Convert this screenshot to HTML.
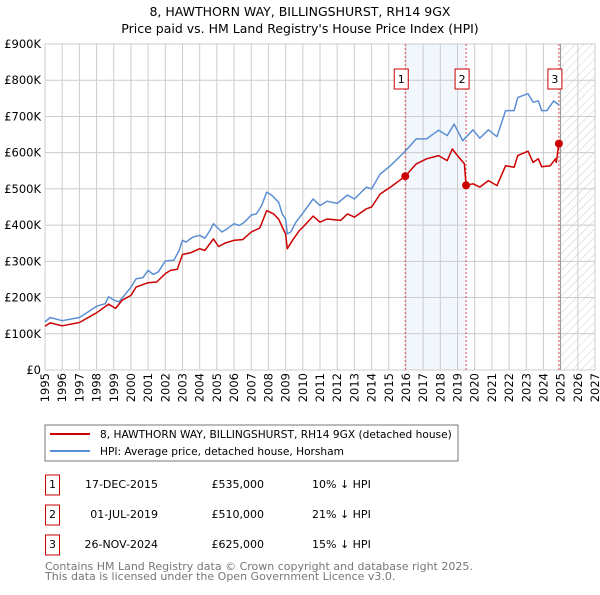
<!DOCTYPE html>
<html><head><meta charset="utf-8"><style>
body{margin:0;background:#fff;font-family:"Liberation Sans","DejaVu Sans",sans-serif;}
svg text{font-family:"DejaVu Sans","Liberation Sans",sans-serif;}
</style></head><body>
<svg id="c" width="600" height="590" xmlns="http://www.w3.org/2000/svg">
<defs><pattern id="hatch" width="6" height="6" patternUnits="userSpaceOnUse" patternTransform="rotate(45)"><line x1="0" y1="0" x2="0" y2="6" stroke="#ccc" stroke-width="1"/></pattern></defs>
<text x="300" y="16" text-anchor="middle" font-size="12.5">8, HAWTHORN WAY, BILLINGSHURST, RH14 9GX</text>
<text x="300" y="33" text-anchor="middle" font-size="12.5">Price paid vs. HM Land Registry's House Price Index (HPI)</text>
<g id="plot"></g>
<rect x="45" y="425" width="413" height="36" fill="#fff" stroke="#777"/>
<line x1="50" y1="434" x2="90" y2="434" stroke="#cc0000" stroke-width="2"/>
<text x="100" y="438" font-size="10.6">8, HAWTHORN WAY, BILLINGSHURST, RH14 9GX (detached house)</text>
<line x1="50" y1="451" x2="90" y2="451" stroke="#5b8fd4" stroke-width="2"/>
<text x="100" y="455" font-size="10.6">HPI: Average price, detached house, Horsham</text>
<g id="table" font-size="11"></g>
<text x="45" y="570" font-size="11" fill="#777">Contains HM Land Registry data © Crown copyright and database right 2025.</text>
<text x="45" y="580" font-size="11" fill="#777">This data is licensed under the Open Government Licence v3.0.</text>
</svg>
<script>
const hpiYears=[1995,1995.3,1996,1997,1997.5,1998,1998.5,1998.7,1999,1999.3,2000,2000.3,2000.7,2001,2001.3,2001.6,2002,2002.5,2002.8,2003,2003.2,2003.6,2004,2004.3,2004.6,2004.8,2005.3,2005.6,2006,2006.3,2006.6,2007,2007.3,2007.6,2007.9,2008.2,2008.6,2008.8,2009,2009.1,2009.3,2009.6,2010,2010.6,2011,2011.4,2012,2012.6,2013,2013.7,2014,2014.5,2015.1,2016,2016.6,2017.2,2017.9,2018.4,2018.8,2019.3,2019.9,2020.3,2020.8,2021.3,2021.8,2022.3,2022.5,2023.1,2023.4,2023.7,2023.9,2024.2,2024.6,2024.9];
const hpiValues=[133,145,136,145,160,176,183,202,193,188,228,252,255,275,264,271,301,303,330,358,353,367,372,364,385,404,381,390,404,399,408,428,431,454,491,482,463,431,417,376,381,408,433,472,454,466,460,483,472,505,500,541,564,606,638,638,662,647,679,633,663,640,663,644,716,716,752,763,739,743,716,716,743,732];
const ppYears=[1995,1995.3,1996,1997,1998,1998.7,1999.1,1999.5,2000,2000.3,2001,2001.5,2002,2002.3,2002.7,2003,2003.5,2004,2004.3,2004.8,2005.1,2005.5,2006,2006.5,2007,2007.5,2007.9,2008.3,2008.6,2008.9,2009,2009.1,2009.4,2009.8,2010,2010.6,2011,2011.4,2012.2,2012.6,2013,2013.7,2014,2014.5,2015.1,2015.96,2016.6,2017.2,2017.9,2018.4,2018.7,2019,2019.4,2019.5,2019.9,2020.3,2020.8,2021.3,2021.8,2022.3,2022.5,2023.1,2023.4,2023.7,2023.9,2024.4,2024.7,2024.75,2024.9];
const ppValues=[121,130,122,131,158,182,170,193,206,229,241,243,266,275,278,319,324,335,330,362,341,351,358,360,381,392,440,431,416,385,376,335,358,385,394,425,408,417,413,431,422,445,450,486,505,535,569,583,592,578,610,592,569,510,514,505,523,509,564,560,592,604,573,583,561,564,583,573,625];
const saleLabels=["1","2","3"];
const saleYears=[2015.96,2019.5,2024.9];
const saleValues=[535,510,625];
const saleDates=["17-DEC-2015","01-JUL-2019","26-NOV-2024"];
const salePrices=["£535,000","£510,000","£625,000"];
const saleDiffs=["10% ↓ HPI","21% ↓ HPI","15% ↓ HPI"];
const yTicks=[0,100,200,300,400,500,600,700,800,900];
const yTickLabels=["£0","£100K","£200K","£300K","£400K","£500K","£600K","£700K","£800K","£900K"];
const xTicks=[1995,1996,1997,1998,1999,2000,2001,2002,2003,2004,2005,2006,2007,2008,2009,2010,2011,2012,2013,2014,2015,2016,2017,2018,2019,2020,2021,2022,2023,2024,2025,2026,2027];

const L=45,R=595,T=44,B=370;
const xs=y=>L+(y-1995)/(2027-1995)*(R-L);
const ys=v=>B-v/900*(B-T);
const NS="http://www.w3.org/2000/svg";
const plot=document.getElementById('plot');
function mk(tag,attrs,parent){const e=document.createElementNS(NS,tag);for(const k in attrs)e.setAttribute(k,attrs[k]);(parent||plot).appendChild(e);return e;}

let e=mk('rect',{x:xs(saleYears[0]),y:T,width:xs(saleYears[1])-xs(saleYears[0]),height:B-T,fill:'#f2f6fd'});


e=mk('rect',{x:xs(saleYears[2]),y:T,width:R-xs(saleYears[2]),height:B-T,fill:'url(#hatch)'});


yTicks.forEach((v,i)=>{
  e=mk('line',{x1:L,x2:R,y1:ys(v),y2:ys(v),stroke:'#ccc','stroke-width':1});
  
  
  e=mk('text',{x:L-4,y:ys(v)+4,'text-anchor':'end','font-size':11.5});
  e.textContent=yTickLabels[i];
  
  
});
xTicks.forEach(y=>{
  e=mk('line',{x1:xs(y),x2:xs(y),y1:T,y2:B,stroke:'#ccc','stroke-width':1});
  
  
  e=mk('text',{x:0,y:0,'text-anchor':'end','font-size':11.5,transform:`translate(${xs(y)+4},${B+3}) rotate(-90)`});
  e.textContent=y;
  
  
});
e=mk('rect',{x:L,y:T,width:R-L,height:B-T,fill:'none',stroke:'#ccc'});


e=mk('line',{x1:xs(saleYears[2])+1.5,x2:xs(saleYears[2])+1.5,y1:T,y2:B,stroke:'#999','stroke-width':1});


saleYears.forEach((y,i)=>{
  e=mk('line',{x1:xs(y),x2:xs(y),y1:T,y2:B,stroke:'#e05050','stroke-width':1,'stroke-dasharray':'2,2'});
  
  
});
function path(xa,va,color,name){
  const d=xa.map((y,i)=>(i?'L':'M')+xs(y).toFixed(1)+','+ys(va[i]).toFixed(1)).join('');
  const p=mk('path',{d:d,fill:'none',stroke:color,'stroke-width':1.5,'stroke-linejoin':'round'});
  
  
}
path(hpiYears,hpiValues,'#5b8fd4','hpi-line');
path(ppYears,ppValues,'#cc0000','property-price-line');
saleYears.forEach((y,i)=>{
  e=mk('circle',{cx:xs(y),cy:ys(saleValues[i]),r:4,fill:'#cc0000'});
  
  
  e=mk('rect',{x:xs(y)-11,y:69,width:14,height:20,fill:'#fff',stroke:'#cc0000'});
  
  
  e=mk('text',{x:xs(y)-4,y:83,'text-anchor':'middle','font-size':11});
  e.textContent=saleLabels[i];
  
  
});
const tb=document.getElementById('table');
saleLabels.forEach((s,i)=>{
  const cy=483+i*30;
  e=mk('rect',{x:45.5,y:cy-8,width:14,height:20,fill:'#fff',stroke:'#cc0000'},tb);
  
  
  e=mk('text',{x:52.5,y:cy+5,'text-anchor':'middle'},tb);e.textContent=s;
  
  
  e=mk('text',{x:158,y:cy+5,'text-anchor':'end'},tb);e.textContent=saleDates[i];
  
  
  e=mk('text',{x:264,y:cy+5,'text-anchor':'end'},tb);e.textContent=salePrices[i];
  
  
  e=mk('text',{x:312,y:cy+5},tb);e.textContent=saleDiffs[i];
  
  
});
</script>
</body></html>
